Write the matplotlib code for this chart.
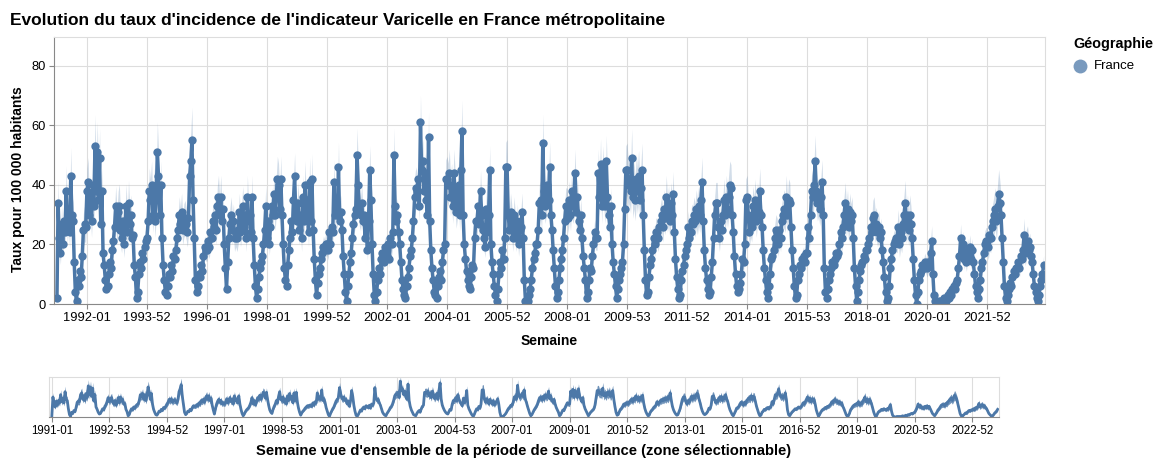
import numpy as np
import pandas as pd
import matplotlib
matplotlib.use('Agg')
import matplotlib.pyplot as plt
import matplotlib.dates as mdates
from matplotlib.lines import Line2D

plt.rcParams['font.family'] = ['Liberation Sans', 'DejaVu Sans']

# taux d'incidence pour 100 000 habitants, un point toutes les 2 semaines
y1991 = [2, 34, 22, 17, 27, 20, 28, 24, 38, 26, 32, 24, 43, 30, 28, 14, 4, 1, 8, 6, 11, 9, 16, 25, 27, 26]
y1992 = [38, 41, 30, 36, 28, 40, 33, 53, 38, 51, 35, 49, 27, 38, 17, 13, 8, 5, 6, 10, 14, 12, 18, 21, 26, 33]
y1993 = [26, 31, 33, 25, 22, 28, 20, 26, 33, 24, 34, 27, 30, 22, 23, 13, 9, 2, 4, 10, 14, 12, 17, 15, 19, 21]
y1994 = [22, 28, 38, 35, 40, 30, 38, 28, 36, 51, 43, 30, 40, 22, 13, 8, 4, 3, 6, 10, 9, 13, 11, 16, 15, 18]
y1995 = [22, 25, 30, 27, 31, 25, 28, 29, 27, 24, 29, 43, 48, 55, 35, 22, 8, 4, 6, 10, 9, 13, 11, 16, 19, 18]
y1996 = [18, 21, 19, 24, 22, 28, 26, 30, 25, 33, 36, 30, 36, 28, 32, 20, 12, 5, 14, 22, 27, 30, 25, 28, 22, 24]
y1997 = [22, 25, 31, 24, 28, 33, 26, 30, 22, 36, 28, 30, 24, 36, 22, 13, 6, 2, 5, 9, 12, 14, 16, 20, 25, 33]
y1998 = [22, 28, 20, 26, 33, 30, 37, 30, 36, 42, 40, 32, 42, 30, 20, 12, 8, 6, 13, 18, 22, 28, 24, 35, 43, 30]
y1999 = [28, 34, 25, 30, 22, 36, 28, 40, 30, 35, 24, 41, 28, 42, 25, 15, 8, 3, 7, 10, 12, 15, 17, 19, 18, 20]
y2000 = [20, 18, 24, 20, 26, 24, 41, 30, 34, 30, 46, 28, 31, 25, 16, 10, 4, 1, 6, 10, 14, 17, 22, 27, 30, 32]
y2001 = [50, 40, 32, 30, 34, 28, 30, 22, 27, 18, 28, 45, 35, 20, 10, 3, 1, 4, 8, 12, 10, 15, 17, 14, 19, 18]
y2002 = [16, 20, 15, 22, 20, 24, 50, 33, 28, 30, 24, 20, 14, 8, 5, 3, 2, 6, 9, 12, 16, 18, 22, 28, 36, 39]
y2003 = [38, 42, 33, 61, 45, 48, 38, 44, 35, 30, 56, 28, 18, 12, 8, 4, 3, 2, 6, 9, 11, 8, 14, 18, 20, 42]
y2004 = [42, 40, 44, 36, 40, 33, 44, 38, 31, 35, 40, 30, 45, 58, 30, 20, 15, 11, 8, 6, 5, 9, 13, 12, 22, 28]
y2005 = [28, 33, 27, 38, 30, 25, 22, 19, 32, 24, 30, 45, 20, 14, 10, 6, 3, 1, 5, 10, 14, 12, 18, 15, 22, 46]
y2006 = [46, 30, 25, 31, 28, 22, 30, 26, 22, 28, 20, 25, 26, 31, 22, 8, 1, 0, 1, 3, 5, 8, 12, 15, 17, 20]
y2007 = [20, 25, 34, 35, 30, 54, 38, 33, 36, 40, 35, 46, 30, 25, 18, 12, 6, 2, 4, 8, 12, 15, 18, 22, 28, 33]
y2008 = [33, 29, 35, 30, 38, 33, 35, 44, 31, 36, 28, 25, 30, 22, 16, 12, 8, 2, 4, 8, 12, 11, 16, 20, 24, 22]
y2009 = [22, 44, 36, 47, 33, 45, 38, 33, 48, 36, 30, 26, 33, 20, 14, 10, 6, 2, 5, 8, 10, 12, 14, 20, 32, 45]
y2010 = [45, 40, 42, 38, 49, 36, 40, 35, 42, 38, 43, 35, 39, 45, 30, 18, 8, 3, 4, 9, 13, 15, 18, 22, 20, 24]
y2011 = [24, 22, 26, 28, 30, 26, 32, 29, 36, 30, 33, 28, 34, 30, 37, 24, 15, 9, 5, 2, 3, 8, 11, 13, 16, 18]
y2012 = [20, 26, 22, 24, 28, 27, 30, 28, 32, 29, 33, 30, 35, 41, 28, 18, 12, 8, 5, 3, 4, 9, 14, 22, 30, 34]
y2013 = [34, 26, 22, 28, 25, 30, 35, 30, 36, 32, 36, 40, 39, 30, 24, 16, 10, 6, 4, 5, 7, 10, 15, 14, 20, 35]
y2014 = [36, 30, 24, 28, 26, 33, 30, 35, 28, 34, 31, 38, 30, 26, 18, 12, 8, 4, 2, 6, 10, 15, 16, 18, 22, 25]
y2015 = [24, 20, 25, 22, 28, 30, 32, 30, 36, 30, 35, 34, 26, 18, 12, 6, 2, 3, 8, 10, 13, 12, 15, 16, 14, 17]
y2016 = [17, 26, 22, 30, 38, 36, 40, 48, 38, 34, 36, 32, 36, 41, 30, 12, 4, 2, 5, 8, 10, 12, 14, 13, 15, 17]
y2017 = [16, 17, 20, 24, 22, 26, 30, 34, 28, 32, 26, 31, 28, 30, 22, 12, 6, 1, 4, 8, 11, 13, 14, 16, 15, 18]
y2018 = [18, 20, 22, 26, 24, 29, 30, 26, 27, 24, 26, 22, 24, 18, 14, 9, 4, 1, 2, 6, 12, 15, 18, 20, 21, 22]
y2019 = [22, 26, 20, 24, 22, 27, 30, 34, 26, 30, 25, 30, 27, 22, 15, 8, 3, 0, 4, 8, 10, 11, 13, 12, 14, 13]
y2020 = [12, 14, 13, 17, 21, 10, 3, 1, 0, 0, 1, 0, 1, 0, 1, 2, 1, 2, 3, 2, 4, 3, 5, 6, 5, 7]
y2021 = [8, 12, 16, 22, 17, 20, 15, 17, 14, 18, 16, 19, 15, 18, 14, 10, 6, 4, 2, 5, 8, 12, 14, 17, 20, 21]
y2022 = [21, 19, 23, 22, 26, 28, 30, 32, 28, 33, 37, 34, 30, 22, 14, 6, 2, 1, 3, 5, 7, 6, 9, 11, 10, 12]
y2023 = [12, 14, 12, 16, 15, 18, 23, 17, 20, 21, 18, 19, 16, 14, 10, 6, 4, 2, 1, 3, 6, 8, 10, 13]

annees = list(range(1991, 2024))
series = [y1991, y1992, y1993, y1994, y1995, y1996, y1997, y1998, y1999, y2000,
          y2001, y2002, y2003, y2004, y2005, y2006, y2007, y2008, y2009, y2010,
          y2011, y2012, y2013, y2014, y2015, y2016, y2017, y2018, y2019, y2020,
          y2021, y2022, y2023]

# demi-largeur relative de l'intervalle de confiance, par annee
ic_rel = [0.22, 0.2, 0.22, 0.2, 0.2, 0.2, 0.2, 0.18, 0.2, 0.18, 0.18, 0.18, 0.15,
          0.18, 0.18, 0.2, 0.18, 0.18, 0.18, 0.2, 0.2, 0.2, 0.2, 0.2, 0.2, 0.18,
          0.2, 0.2, 0.22, 0.25, 0.22, 0.22, 0.25]

bleu = '#4c78a8'

dates, taux, bas, haut = [], [], [], []
for an, vals, r in zip(annees, series, ic_rel):
    d0 = pd.Timestamp(f'{an}-01-01')
    for i, v in enumerate(vals):
        dates.append(d0 + pd.Timedelta(days=14 * i))
        taux.append(v)
        bas.append(v * (1 - r))
        haut.append(v * (1 + r))

W, H = 1155, 461
fig = plt.figure(figsize=(W / 100, H / 100), dpi=100)
ax = fig.add_axes([54 / W, 1 - 304 / H, 991 / W, 267 / H])
ax2 = fig.add_axes([49 / W, 1 - 417 / H, 950 / W, 40 / H])

xmin, xmax = pd.Timestamp('1990-11-26'), pd.Timestamp('2023-12-06')

# graphique principal
ax.fill_between(dates, bas, haut, color=bleu, alpha=0.25, lw=0)
ax.plot(dates, taux, color=bleu, lw=2.5, marker='o', ms=6, mew=0)
ax.set_xlim(xmin, xmax)
ax.set_ylim(0, 89.6)
ax.set_yticks([0, 20, 40, 60, 80])
ax.set_xticks([pd.Timestamp(f'{y}-01-01') for y in range(1992, 2023, 2)])
ax.xaxis.set_major_formatter(mdates.DateFormatter('%G-%V'))
ax.grid(True, color='#dddddd', lw=0.8)
ax.set_axisbelow(True)
for s in ['top', 'right']:
    ax.spines[s].set_color('#dddddd')
for s in ['left', 'bottom']:
    ax.spines[s].set_color('#888888')
ax.tick_params(length=3.6, width=0.8, color='#888888', labelsize=9.3, pad=2)

# vue d'ensemble
ax2.fill_between(dates, bas, haut, color=bleu, alpha=0.8, lw=0)
ax2.plot(dates, taux, color=bleu, lw=2)
ax2.set_xlim(xmin, xmax)
ax2.set_ylim(0, 68)
ax2.set_yticks([])
ax2.set_xticks([pd.Timestamp(f'{y}-01-01') for y in range(1991, 2024, 2)])
ax2.xaxis.set_major_formatter(mdates.DateFormatter('%G-%V'))
ax2.grid(True, axis='x', color='#dddddd', lw=0.8)
ax2.set_axisbelow(True)
for s in ['top', 'right', 'left']:
    ax2.spines[s].set_color('#dddddd')
ax2.spines['bottom'].set_color('#888888')
ax2.tick_params(length=3.6, width=0.8, color='#888888', labelsize=8.3, pad=2)

# textes
fig.text(10 / W, 1 - 20 / H, "Evolution du taux d'incidence de l'indicateur Varicelle en France métropolitaine",
         fontsize=12.5, weight='bold', va='center', ha='left')
fig.text(18 / W, 1 - 179 / H, 'Taux pour 100 000 habitants', rotation=90, fontsize=10,
         weight='bold', va='center', ha='center')
fig.text(549 / W, 1 - 341 / H, 'Semaine', fontsize=10, weight='bold', va='center', ha='center')
fig.text(524 / W, 1 - 451 / H, "Semaine vue d'ensemble de la période de surveillance (zone sélectionnable)",
         fontsize=10.6, weight='bold', va='center', ha='center')

# legende
fig.text(1073 / W, 1 - 44 / H, 'Géographie', fontsize=10.4, weight='bold', va='center', ha='left')
fig.add_artist(Line2D([1080 / W], [1 - 66 / H], marker='o', ms=10, color=bleu, alpha=0.75,
                      mew=0, transform=fig.transFigure))
fig.text(1094 / W, 1 - 66 / H, 'France', fontsize=9.5, va='center', ha='left')

fig.savefig('out.png', dpi=100)
